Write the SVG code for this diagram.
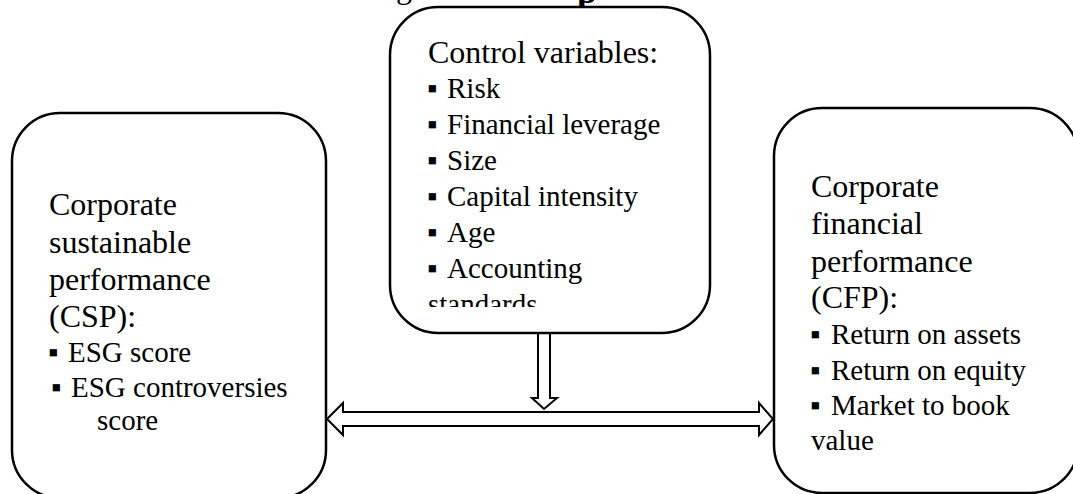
<svg xmlns="http://www.w3.org/2000/svg" width="1073" height="494" viewBox="0 0 1073 494">
  <style>
    .box { fill: #ffffff; stroke: #000000; stroke-width: 2.5; }
    .arrow { fill: #ffffff; stroke: #000000; stroke-width: 2; stroke-linejoin: miter; }
    text { font-family: "Liberation Serif", serif; fill: #000000; }
    .head { font-size: 32px; }
    .item { font-size: 29px; }
  </style>
  <defs>
    <clipPath id="ctrl-clip">
      <rect x="390" y="7" width="320" height="300"/>
    </clipPath>
  </defs>
  <rect width="1073" height="494" fill="#ffffff"/>

  <!-- heading line above the figure, mostly outside the frame -->
  <g id="caption">
    <text x="396" y="-2" font-size="32">g</text>
    <text x="577" y="3" font-size="36" font-weight="bold">p</text>
  </g>

  <!-- connectors -->
  <g id="connectors">
    <polygon class="arrow" points="538,333 550,333 550,398 557,398 544,409 532,398 538,398"/>
    <polygon class="arrow" points="327,419 343,403 343,412 759,412 759,403 773,419 759,435 759,426 343,426 343,435"/>
  </g>

  <!-- independent variable -->
  <g id="csp">
    <rect class="box" x="12" y="113" width="314" height="385" rx="48" ry="48"/>
    <text class="head" x="49" y="215">Corporate</text>
    <text class="head" x="49" y="253">sustainable</text>
    <text class="head" x="49" y="290">performance</text>
    <text class="head" x="49" y="327">(CSP):</text>
    <text class="item" y="362"><tspan x="48">▪</tspan><tspan x="68">ESG score</tspan></text>
    <text class="item" y="397"><tspan x="51">▪</tspan><tspan x="71">ESG controversies</tspan></text>
    <text class="item" x="97" y="430">score</text>
  </g>

  <!-- control variables -->
  <g id="controls">
    <rect class="box" x="390" y="7" width="320" height="326" rx="48" ry="48"/>
    <g clip-path="url(#ctrl-clip)">
      <text class="head" x="428" y="63">Control variables:</text>
      <text class="item" y="98"><tspan x="427">▪</tspan><tspan x="447">Risk</tspan></text>
      <text class="item" y="134"><tspan x="427">▪</tspan><tspan x="447">Financial leverage</tspan></text>
      <text class="item" y="170"><tspan x="427">▪</tspan><tspan x="447">Size</tspan></text>
      <text class="item" y="206"><tspan x="427">▪</tspan><tspan x="447">Capital intensity</tspan></text>
      <text class="item" y="242"><tspan x="427">▪</tspan><tspan x="447">Age</tspan></text>
      <text class="item" y="278"><tspan x="427">▪</tspan><tspan x="447">Accounting</tspan></text>
      <text class="item" x="428" y="314">standards</text>
    </g>
  </g>

  <!-- dependent variable -->
  <g id="cfp">
    <rect class="box" x="774" y="108" width="304" height="385" rx="48" ry="48"/>
    <text class="head" x="811" y="197">Corporate</text>
    <text class="head" x="811" y="234">financial</text>
    <text class="head" x="811" y="272">performance</text>
    <text class="head" x="811" y="308">(CFP):</text>
    <text class="item" y="344"><tspan x="810">▪</tspan><tspan x="831">Return on assets</tspan></text>
    <text class="item" y="380"><tspan x="810">▪</tspan><tspan x="831">Return on equity</tspan></text>
    <text class="item" y="415"><tspan x="810">▪</tspan><tspan x="831">Market to book</tspan></text>
    <text class="item" x="811" y="450">value</text>
  </g>
</svg>
